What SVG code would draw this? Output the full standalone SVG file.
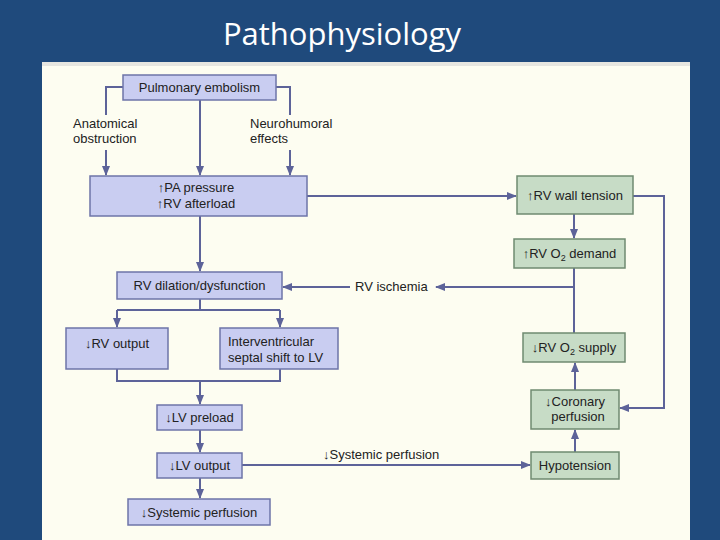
<svg xmlns="http://www.w3.org/2000/svg" width="720" height="540" viewBox="0 0 720 540">
<style>
.p{fill:#c9cdf1;stroke:#6d74a8;stroke-width:1.5}
.g{fill:#c7dcc6;stroke:#6f8a70;stroke-width:1.5}
.t{font-family:"Liberation Sans",Arial,sans-serif;font-size:13px;fill:#222;text-anchor:middle}
.l{font-family:"Liberation Sans",Arial,sans-serif;font-size:13px;fill:#222}
#c path{fill:none;stroke:#5d6399;stroke-width:2}
</style>
<defs><marker id="a" viewBox="0 0 10 10" refX="9" refY="5" markerWidth="5" markerHeight="5" orient="auto"><path d="M0,1 L10,5 L0,9 z" fill="#5d6399"/></marker></defs>
<rect width="720" height="540" fill="#1f4a7c"/>
<text x="342" y="45" font-family="'Open Sans','Liberation Sans',sans-serif" font-size="31" fill="#fff" text-anchor="middle">Pathophysiology</text>
<rect x="42" y="62" width="648" height="478" fill="#fdfdf1"/>
<rect x="42" y="62" width="648" height="4" fill="#e6e6e0"/>
<g id="c">
<path d="M123,87H106V115"/><path d="M106,150V175" marker-end="url(#a)"/>
<path d="M200,100V175" marker-end="url(#a)"/>
<path d="M276,87H290V115"/><path d="M290,150V175" marker-end="url(#a)"/>
<path d="M307,196H516" marker-end="url(#a)"/>
<path d="M200,216V271" marker-end="url(#a)"/>
<path d="M574,214V238" marker-end="url(#a)"/>
<path d="M574,268V333"/>
<path d="M574,287H436" marker-end="url(#a)"/>
<path d="M350,287H283" marker-end="url(#a)"/>
<path d="M633,196H664V408H620" marker-end="url(#a)"/>
<path d="M575,390V363" marker-end="url(#a)"/>
<path d="M575,452V430" marker-end="url(#a)"/>
<path d="M242,465H530" marker-end="url(#a)"/>
<path d="M200,299V310"/><path d="M117,310H280"/>
<path d="M117,310V327" marker-end="url(#a)"/><path d="M280,310V327" marker-end="url(#a)"/>
<path d="M117,369V381H280V369"/><path d="M200,381V404" marker-end="url(#a)"/>
<path d="M200,430V452" marker-end="url(#a)"/>
<path d="M200,478V498" marker-end="url(#a)"/>
</g>
<text class="l" x="73" y="128">Anatomical</text><text class="l" x="73" y="143">obstruction</text>
<text class="l" x="250" y="128">Neurohumoral</text><text class="l" x="250" y="143">effects</text>
<text class="l" x="355" y="291">RV ischemia</text>
<text class="l" x="323" y="459">↓Systemic perfusion</text>
<g id="pe"><rect class="p" x="123" y="75" width="153" height="25"/><text class="t" x="199.5" y="92">Pulmonary embolism</text></g>
<g id="pa"><rect class="p" x="90" y="176" width="217" height="40"/><text class="t" x="196" y="192">↑PA pressure</text><text class="t" x="196" y="208">↑RV afterload</text></g>
<g id="rvd"><rect class="p" x="117" y="272" width="165" height="27"/><text class="t" x="199.5" y="290">RV dilation/dysfunction</text></g>
<g id="rvo"><rect class="p" x="66" y="328" width="102" height="41"/><text class="t" x="117" y="348">↓RV output</text></g>
<g id="ivs"><rect class="p" x="220" y="328" width="118" height="41"/><text class="l" x="228" y="346">Interventricular</text><text class="l" x="228" y="362">septal shift to LV</text></g>
<g id="lvp"><rect class="p" x="157" y="405" width="85" height="25"/><text class="t" x="199.5" y="422">↓LV preload</text></g>
<g id="lvo"><rect class="p" x="157" y="453" width="85" height="25"/><text class="t" x="199.5" y="470">↓LV output</text></g>
<g id="sp"><rect class="p" x="128" y="499" width="142" height="26"/><text class="t" x="199" y="517">↓Systemic perfusion</text></g>
<g id="wt"><rect class="g" x="517" y="176" width="116" height="38"/><text class="t" x="575" y="200">↑RV wall tension</text></g>
<g id="dem"><rect class="g" x="514" y="239" width="111" height="29"/><text class="t" x="569.5" y="258">↑RV O<tspan font-size="9" dy="3">2</tspan><tspan dy="-3"> demand</tspan></text></g>
<g id="sup"><rect class="g" x="523" y="333" width="102" height="29"/><text class="t" x="574" y="352">↓RV O<tspan font-size="9" dy="3">2</tspan><tspan dy="-3"> supply</tspan></text></g>
<g id="cor"><rect class="g" x="531" y="390" width="88" height="39"/><text class="t" x="575" y="406">↓Coronary</text><text class="t" x="578" y="421">perfusion</text></g>
<g id="hyp"><rect class="g" x="531" y="452" width="88" height="27"/><text class="t" x="575" y="470">Hypotension</text></g>
</svg>
